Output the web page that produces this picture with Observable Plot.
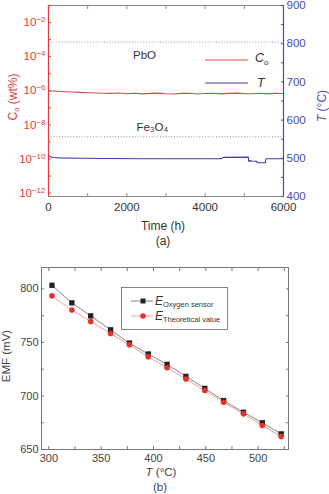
<!DOCTYPE html>
<html>
<head>
<meta charset="utf-8">
<script src="https://cdn.jsdelivr.net/npm/d3@7"></script>
<script src="https://cdn.jsdelivr.net/npm/@observablehq/plot@0.6"></script>
<style>
  html, body { margin: 0; padding: 0; background: #fff; }
  #wrap { position: relative; width: 329px; height: 494px; overflow: hidden; font-family: "Liberation Sans", Arial, Helvetica, sans-serif; }
  .layer { position: absolute; left: 0; }
  svg { display: block; }
</style>
</head>
<body>
<div id="wrap">
  <div id="a1" class="layer" style="top:0"></div>
  <div id="a2" class="layer" style="top:0"></div>
  <div id="b" class="layer" style="top:250px"></div>
  <svg id="ann" class="layer" style="top:0" width="329" height="494"></svg>
</div>
<script>
// ---------- Data: panel (a) ----------
const coTime = [0, 200, 400, 600, 800, 1000, 1200, 1400, 1600, 1800, 2000, 2200, 2400, 2600, 2800, 3000,
                3200, 3400, 3600, 3800, 4000, 4200, 4400, 4600, 4800, 5000, 5200, 5400, 5600, 5800, 6000];
const coValue = [1.0e-6, 0.93e-6, 0.88e-6, 0.85e-6, 0.8e-6, 0.77e-6, 0.74e-6, 0.71e-6, 0.7e-6, 0.74e-6, 0.67e-6,
                 0.72e-6, 0.66e-6, 0.7e-6, 0.73e-6, 0.67e-6, 0.65e-6, 0.7e-6, 0.71e-6, 0.65e-6, 0.69e-6, 0.72e-6,
                 0.66e-6, 0.7e-6, 0.73e-6, 0.68e-6, 0.67e-6, 0.71e-6, 0.66e-6, 0.7e-6, 0.69e-6];
const tTime = [0, 40, 100, 300, 800, 1500, 2500, 3500, 4400, 4480, 5100, 5115, 5140, 5200, 5320, 5330, 5540, 5550, 6000];
const tValue = [507, 505, 502, 501, 500, 499.5, 499, 499, 499, 502.5, 503, 491, 494, 493, 492, 488.5, 488.5, 499, 499];
const boundaryCo = [7.1e-4, 2.0e-9];          // PbO / Fe3O4 formation limits (dotted)
const phaseNames = ["PbO", "Fe₃O₄"];
const phaseTime = [2450, 2650];
const phaseCo = [1.2e-4, 7.0e-9];
const timeTicks = [0, 1000, 2000, 3000, 4000, 5000, 6000];
const coTicks = [1e-1, 1e-2, 1e-3, 1e-4, 1e-5, 1e-6, 1e-7, 1e-8, 1e-9, 1e-10, 1e-11, 1e-12];
const tTicks = [400, 450, 500, 550, 600, 650, 700, 750, 800, 850, 900];

// ---------- Data: panel (b) ----------
const emfTemp = [303, 322, 340, 359, 377, 395, 413, 431, 449, 467, 486, 504, 522];
const emfSensor = [803.4, 787, 774.8, 761.8, 749.4, 739.2, 729.5, 718.3, 707.1, 695.7, 684.8, 674.9, 664.6];
const emfTheory = [793.5, 780.2, 769.5, 758.4, 747.8, 736.6, 726.4, 715.9, 705, 694.1, 683.3, 672.4, 662.1];
const bxTicks = [300, 325, 350, 375, 400, 425, 450, 475, 500, 525];
const byTicks = [650, 675, 700, 725, 750, 775, 800];

const RED = "#e23b3b", BLUE = "#4b4bb3", GRAY = "#8a8a8a";
const FONT = "'Liberation Sans', Arial, Helvetica, sans-serif";
const W = 329;

const coData = coTime.map((t, i) => ({t, v: coValue[i]}));
const tData = tTime.map((t, i) => ({t, v: tValue[i]}));
const phases = phaseNames.map((name, i) => ({name, t: phaseTime[i], v: phaseCo[i]}));
const emf = emfTemp.map((t, i) => ({t, sensor: emfSensor[i], theory: emfTheory[i]}));

const baseA = {
  width: W, height: 245, marginTop: 5, marginRight: 46, marginBottom: 49, marginLeft: 48,
  style: {fontFamily: FONT, fontSize: "11px", background: "transparent", overflow: "visible"}
};

// Panel (a): Co on log scale (left axis)
const A1 = Plot.plot({
  ...baseA,
  x: {domain: [0, 6000]},
  y: {type: "log", domain: [Math.pow(10, -12.2), 1e-1]},
  marks: [
    Plot.frame({stroke: GRAY}),
    Plot.ruleY(boundaryCo, {stroke: "#999", strokeDasharray: "1,1.8", strokeWidth: 1}),
    Plot.line(coData, {x: "t", y: "v", stroke: "#d84848", strokeWidth: 1.1}),
    Plot.text(phases, {x: "t", y: "v", text: "name", fill: "#333", fontSize: 11.5}),
    Plot.axisX({anchor: "bottom", ticks: timeTicks, tickSize: -3, tickPadding: 9, stroke: GRAY, color: "#333",
                tickFormat: d => (d % 2000 === 0 ? String(d) : ""), label: null, fontSize: 11.5}),
    Plot.axisX({anchor: "top", ticks: timeTicks, tickSize: -3, stroke: GRAY, tickFormat: () => "", label: null}),
    Plot.axisY({anchor: "left", ticks: coTicks, tickSize: -3, tickPadding: 6, color: RED, label: null, fontSize: 11.5,
                tickFormat: d => { const e = Math.round(Math.log10(d)); return e % 2 === 0 ? "10^" + e : ""; }}),
    Plot.ruleX([0], {stroke: RED, strokeWidth: 1.2})
  ]
});

// Panel (a): temperature on linear scale (right axis)
const A2 = Plot.plot({
  ...baseA,
  x: {domain: [0, 6000], axis: null},
  y: {domain: [400, 900]},
  marks: [
    Plot.line(tData, {x: "t", y: "v", stroke: "#3c3caa", strokeWidth: 1.1}),
    Plot.axisY({anchor: "right", ticks: tTicks, tickSize: -3, tickPadding: 6, color: BLUE, label: null, fontSize: 11.5,
                tickFormat: d => (d % 100 === 0 ? String(d) : "")}),
    Plot.ruleX([6000], {stroke: BLUE, strokeWidth: 1.2})
  ]
});

// Panel (b): EMF vs temperature
const B = Plot.plot({
  width: W, height: 244, marginTop: 17, marginRight: 41, marginBottom: 45, marginLeft: 41,
  style: {fontFamily: FONT, fontSize: "10.5px", background: "transparent", overflow: "visible"},
  x: {domain: [293, 529]},
  y: {domain: [650, 820]},
  marks: [
    Plot.frame({stroke: "#777"}),
    Plot.line(emf, {x: "t", y: "sensor", stroke: "#666", strokeWidth: 0.8}),
    Plot.line(emf, {x: "t", y: "theory", stroke: "#ec8080", strokeWidth: 0.8}),
    Plot.dot(emf, {x: "t", y: "sensor", symbol: "square", r: 3, fill: "#222", stroke: "none"}),
    Plot.dot(emf, {x: "t", y: "theory", symbol: "circle", r: 2.8, fill: "#e8302c", stroke: "none"}),
    Plot.axisX({anchor: "bottom", ticks: bxTicks, tickSize: -3, tickPadding: 8, stroke: "#777", color: "#444",
                tickFormat: d => (d % 50 === 0 ? String(d) : ""), label: null, fontSize: 11}),
    Plot.axisX({anchor: "top", ticks: bxTicks, tickSize: -3, stroke: "#777", tickFormat: () => "", label: null}),
    Plot.axisY({anchor: "left", ticks: byTicks, tickSize: -3, tickPadding: 6, stroke: "#777", color: "#444",
                tickFormat: d => (d % 50 === 0 ? String(d) : ""), label: null, fontSize: 11}),
    Plot.axisY({anchor: "right", ticks: byTicks, tickSize: -3, stroke: "#777", tickFormat: () => "", label: null})
  ]
});

document.getElementById("a1").appendChild(A1);
document.getElementById("a2").appendChild(A2);
document.getElementById("b").appendChild(B);

// superscript exponents for the log axis labels
A1.querySelectorAll('g[aria-label="y-axis tick label"] text').forEach(t => {
  const m = /^10\^(-?\d+)$/.exec(t.textContent);
  if (m) {
    t.textContent = "10";
    const ts = document.createElementNS("http://www.w3.org/2000/svg", "tspan");
    ts.setAttribute("dy", "-4");
    ts.setAttribute("font-size", "8");
    ts.textContent = "−" + String(-m[1]);
    t.appendChild(ts);
  }
});

// ---------- Annotations: axis titles, legends ----------
const ann = d3.select("#ann").style("font-family", FONT);

function label(x, y, rot, fill, size, parts) {
  const t = ann.append("text")
    .attr("transform", `translate(${x},${y}) rotate(${rot})`)
    .attr("text-anchor", "middle").attr("dominant-baseline", "middle")
    .attr("fill", fill).attr("font-size", size);
  parts.forEach(p => {
    const s = t.append("tspan").text(p.s);
    if (p.i) s.attr("font-style", "italic");
    if (p.sub) s.attr("font-size", p.fs || size * 0.65).attr("dy", p.sub);
    if (p.dy) s.attr("dy", p.dy);
  });
  return t;
}

// panel (a)
label(14, 97, -90, RED, 12, [{s: "C"}, {s: "o", sub: 3}, {s: " (wt%)", dy: -3}]);
label(323, 106, -90, BLUE, 12, [{s: "T", i: true}, {s: " (°C)"}]);
label(163, 227, 0, "#333", 12, [{s: "Time (h)"}]);
label(163, 242, 0, "#333", 12, [{s: "(a)"}]);

ann.append("line").attr("x1", 205).attr("x2", 248).attr("y1", 60).attr("y2", 60).attr("stroke", "#d84848").attr("stroke-width", 1.2);
ann.append("line").attr("x1", 205).attr("x2", 248).attr("y1", 83).attr("y2", 83).attr("stroke", "#3c3caa").attr("stroke-width", 1.2);
ann.append("text").attr("x", 255).attr("y", 62).attr("font-size", 12.5).attr("fill", "#333").attr("font-style", "italic")
  .call(t => { t.append("tspan").text("C"); t.append("tspan").attr("font-size", 8).attr("dy", 3).attr("font-style", "normal").text("o"); });
ann.append("text").attr("x", 257).attr("y", 87).attr("font-size", 12.5).attr("fill", "#333").attr("font-style", "italic").text("T");

// panel (b)
label(7, 356, -90, "#444", 11.5, [{s: "EMF (mV)"}]);
label(161, 473, 0, "#444", 11.5, [{s: "T", i: true}, {s: " (°C)"}]);
label(160, 488, 0, "#444", 11.5, [{s: "(b)"}]);

ann.append("rect").attr("x", 121.5).attr("y", 287.5).attr("width", 106).attr("height", 42)
  .attr("fill", "#fff").attr("stroke", "#666").attr("stroke-width", 0.8);
ann.append("line").attr("x1", 131).attr("x2", 153).attr("y1", 301).attr("y2", 301).attr("stroke", "#666").attr("stroke-width", 0.8);
ann.append("rect").attr("x", 140.5).attr("y", 298.5).attr("width", 5).attr("height", 5).attr("fill", "#222");
ann.append("line").attr("x1", 131).attr("x2", 153).attr("y1", 316).attr("y2", 316).attr("stroke", "#ec8080").attr("stroke-width", 0.8);
ann.append("circle").attr("cx", 143).attr("cy", 316).attr("r", 2.8).attr("fill", "#e8302c");
ann.append("text").attr("x", 155).attr("y", 305).attr("font-size", 12).attr("fill", "#333")
  .call(t => { t.append("tspan").attr("font-style", "italic").text("E"); t.append("tspan").attr("font-size", 7.5).attr("dy", 2).text("Oxygen sensor"); });
ann.append("text").attr("x", 155).attr("y", 320).attr("font-size", 12).attr("fill", "#333")
  .call(t => { t.append("tspan").attr("font-style", "italic").text("E"); t.append("tspan").attr("font-size", 7.5).attr("dy", 2).text("Theoretical value"); });
</script>
</body>
</html>
